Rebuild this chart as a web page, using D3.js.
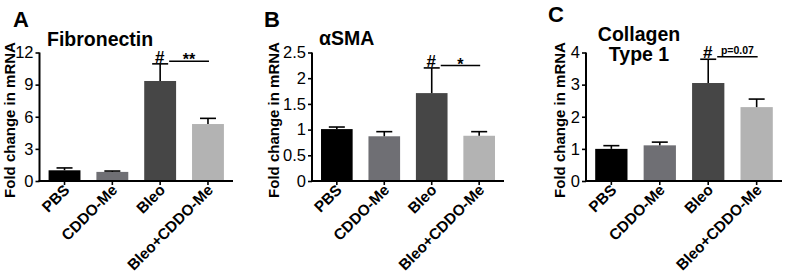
<!DOCTYPE html>
<html><head><meta charset="utf-8">
<script src="https://cdn.jsdelivr.net/npm/d3@7/dist/d3.min.js"></script>
<style>
body{margin:0;background:#fff;}
svg{display:block;font-family:"Liberation Sans",Arial,sans-serif;}
</style></head>
<body>
<svg id="chart" width="786" height="278"></svg>
<script>
const categories = ["PBS", "CDDO-Me", "Bleo", "Bleo+CDDO-Me"];
const barColors = ["#000000", "#6f6f74", "#464646", "#b3b3b3"];

const fibronectinMean = [1.0, 0.85, 9.34, 5.32];
const fibronectinSem  = [0.22, 0.08, 1.6, 0.53];
const fibronectinTicks = [0, 3, 6, 9, 12];

const smaMean = [1.01, 0.87, 1.71, 0.88];
const smaSem  = [0.04, 0.09, 0.49, 0.08];
const smaTicks = [0, 0.5, 1, 1.5, 2, 2.5];

const collagenMean = [1.0, 1.11, 3.05, 2.3];
const collagenSem  = [0.1, 0.1, 0.74, 0.25];
const collagenTicks = [0, 1, 2, 3, 4];

const svg = d3.select("#chart");

function drawPanel(o) {
  const g = svg.append("g");
  const y = d3.scaleLinear().domain([0, o.ticks[o.ticks.length - 1]]).range([181, 52.5]);
  const x = d3.scaleBand().domain(categories).range([o.left, o.right]).paddingInner(1/3).paddingOuter(0.19);

  // bars
  g.selectAll("rect.bar").data(o.mean).join("rect")
    .attr("x", (d, i) => x(categories[i]))
    .attr("width", x.bandwidth())
    .attr("y", d => y(d))
    .attr("height", d => y(0) - y(d))
    .attr("fill", (d, i) => barColors[i]);

  // error bars (upper)
  const cw = 8;
  o.mean.forEach((m, i) => {
    const cx = x(categories[i]) + x.bandwidth() / 2;
    const top = y(m + o.sem[i]);
    g.append("line").attr("x1", cx).attr("x2", cx).attr("y1", y(m)).attr("y2", top)
      .attr("stroke", "#000").attr("stroke-width", 1.6);
    g.append("line").attr("x1", cx - cw).attr("x2", cx + cw).attr("y1", top).attr("y2", top)
      .attr("stroke", "#000").attr("stroke-width", 1.6);
  });

  // y axis
  const ya = g.append("g").attr("transform", `translate(${o.left},0)`)
    .call(d3.axisLeft(y).tickValues(o.ticks).tickSize(4).tickPadding(2).tickFormat(d => String(d)));
  ya.select(".domain").attr("stroke-width", 2).attr("d", `M0,${y(0)}V${y.range()[1]}`);
  ya.selectAll(".tick line").attr("stroke-width", 1.6);
  ya.selectAll(".tick text").attr("font-size", 16.5).attr("fill", "#000")
    .attr("font-family", "'Liberation Sans',Arial,sans-serif");

  // x axis
  const xa = g.append("g").attr("transform", `translate(0,${y(0)})`)
    .call(d3.axisBottom(x).tickSize(4).tickSizeOuter(0).tickFormat(""));
  xa.select(".domain").attr("stroke-width", 2).attr("d", `M${o.left - 1},0H${o.right}`);
  xa.selectAll(".tick line").attr("stroke-width", 1.6);

  // x labels rotated
  categories.forEach(c => {
    const cx = x(c) + x.bandwidth() / 2;
    g.append("text").attr("transform", `translate(${cx + 6},${191}) rotate(-45)`)
      .attr("text-anchor", "end").attr("font-weight", "bold").attr("font-size", 15.3)
      .text(c);
  });

  // y label
  g.append("text").attr("transform", `translate(${o.ylabX},120) rotate(-90)`)
    .attr("text-anchor", "middle").attr("dominant-baseline", "central")
    .attr("font-weight", "bold").attr("font-size", 15).text("Fold change in mRNA");

  // panel letter
  g.append("text").attr("x", o.letterX).attr("y", o.letterY).attr("font-weight", "bold")
    .attr("font-size", 22).text(o.letter);

  // title
  o.title.forEach((t, k) => {
    g.append("text").attr("x", o.titleX).attr("y", o.titleY + k * 20)
      .attr("text-anchor", o.titleAnchor).attr("font-weight", "bold").attr("font-size", 19.5).text(t);
  });

  // significance
  const bleoC = x("Bleo") + x.bandwidth() / 2;
  const bcC = x("Bleo+CDDO-Me") + x.bandwidth() / 2;
  const bTop = y(o.mean[2] + o.sem[2]);
  g.append("text").attr("x", bleoC - 0.5).attr("y", bTop - 1).attr("text-anchor", "middle")
    .attr("font-weight", "bold").attr("font-size", 17).text("#");
  const ly = bTop - 2.5;
  const x1 = bleoC + 9, x2 = bcC + 1;
  g.append("line").attr("x1", x1).attr("x2", x2).attr("y1", ly).attr("y2", ly)
    .attr("stroke", "#000").attr("stroke-width", 1.5);
  g.append("text").attr("x", (x1 + x2) / 2).attr("y", ly + o.sigDy)
    .attr("text-anchor", "middle").attr("font-weight", "bold").attr("font-size", o.sigSize).text(o.sig);
}

drawPanel({mean: fibronectinMean, sem: fibronectinSem, ticks: fibronectinTicks, left: 39.5, right: 233,
  letter: "A", letterX: 13, letterY: 27, title: ["Fibronectin"], titleX: 47, titleY: 46, titleAnchor: "start",
  ylabX: 9, sig: "**", sigSize: 16, sigDy: 4});
drawPanel({mean: smaMean, sem: smaSem, ticks: smaTicks, left: 312, right: 504,
  letter: "B", letterX: 264, letterY: 27, title: ["αSMA"], titleX: 319, titleY: 45, titleAnchor: "start",
  ylabX: 273, sig: "*", sigSize: 16, sigDy: 5});
drawPanel({mean: collagenMean, sem: collagenSem, ticks: collagenTicks, left: 586, right: 782,
  letter: "C", letterX: 548, letterY: 22, title: ["Collagen", "Type 1"], titleX: 639, titleY: 41, titleAnchor: "middle",
  ylabX: 559, sig: "p=0.07", sigSize: 10.5, sigDy: -2.5});
</script>
</body></html>
